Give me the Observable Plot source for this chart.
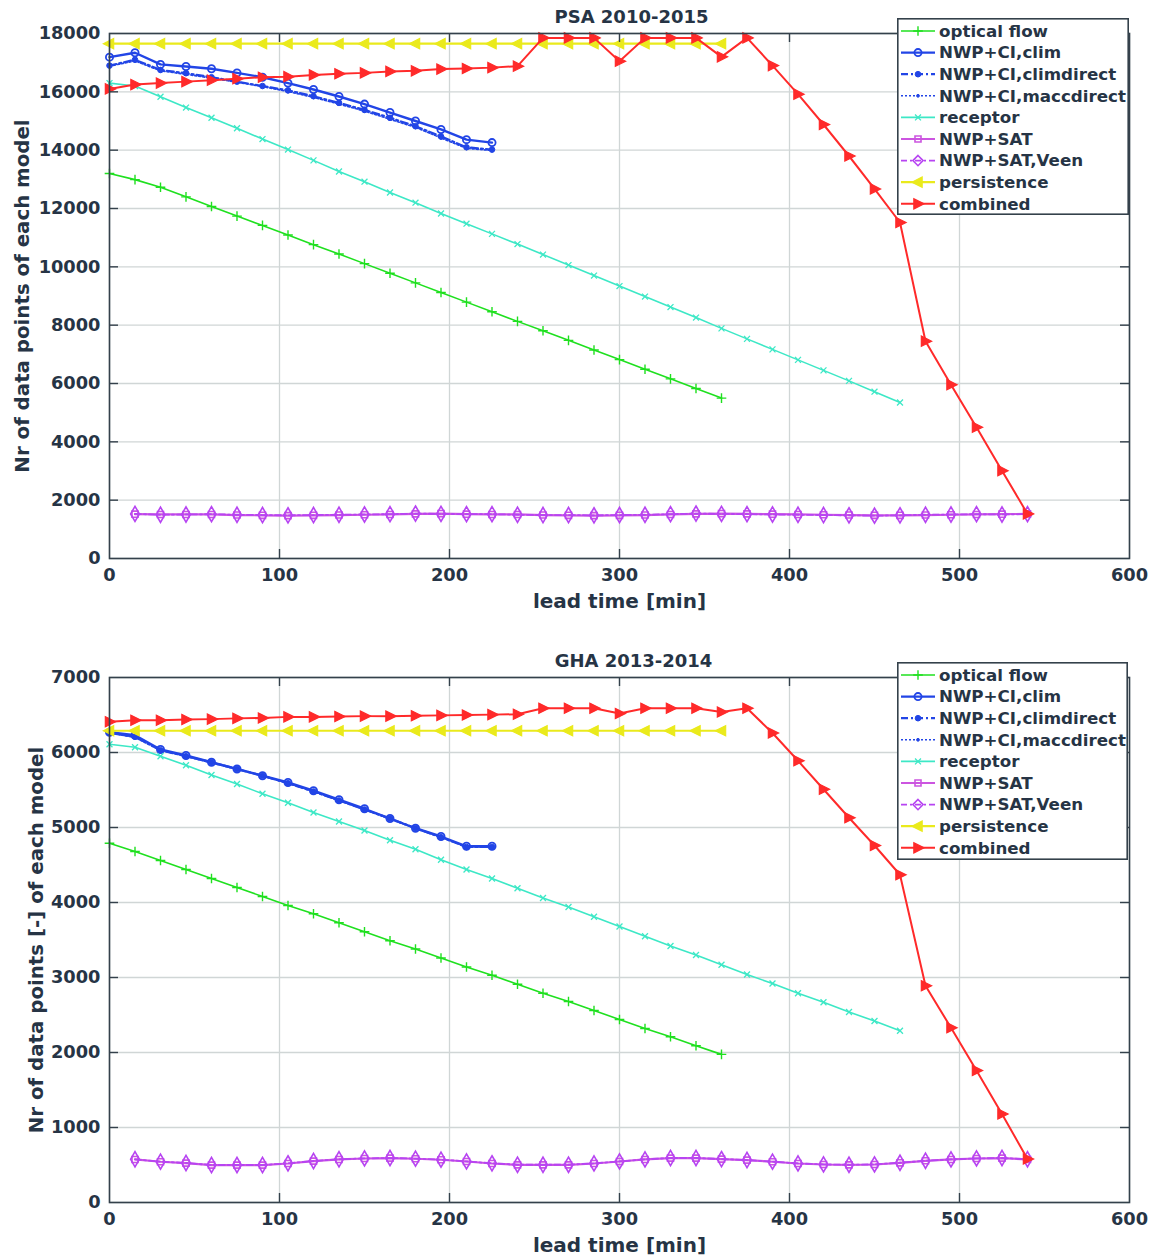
<!DOCTYPE html>
<html><head><meta charset="utf-8">
<script src="https://cdn.jsdelivr.net/npm/d3@7"></script>
<script src="https://cdn.jsdelivr.net/npm/@observablehq/plot@0.6"></script>
<style>
body{margin:0;background:#fff;}
#wrap{position:relative;width:1154px;height:1256px;overflow:hidden;background:#fff;}
.panel{position:absolute;left:0;}
.legend{position:absolute;}
</style></head><body><div id="wrap"></div>
<script>
// ---------- DATA ----------
const leadTimes = [0,15,30,45,60,75,90,105,120,135,150,165,180,195,210,225,240,255,270,285,300,315,330,345,360,375,390,405,420,435,450,465,480,495,510,525,540];
const xTicks = [0,100,200,300,400,500,600];
const psaYTicks = [0,2000,4000,6000,8000,10000,12000,14000,16000,18000];
const ghaYTicks = [0,1000,2000,3000,4000,5000,6000,7000];
const modelNames = ["optical flow","NWP+CI,clim","NWP+CI,climdirect","NWP+CI,maccdirect","receptor","NWP+SAT","NWP+SAT,Veen","persistence","combined"];
// first lead-time index of each model (SAT models start at 15 min)
const modelStart = [0,0,0,0,0,1,1,0,0];

// PSA 2010-2015
const psaOptical = [13200,12990,12730,12400,12070,11740,11420,11090,10760,10440,10110,9780,9450,9120,8790,8460,8130,7810,7480,7150,6820,6490,6160,5830,5500];
const psaClim = [17190,17340,16940,16870,16790,16650,16500,16300,16080,15840,15580,15290,15000,14710,14360,14260];
const psaClimdirect = [16900,17100,16750,16640,16500,16350,16200,16050,15850,15620,15380,15110,14820,14470,14100,14020];
const psaMaccdirect = [16880,17060,16720,16600,16470,16330,16180,16010,15810,15580,15340,15060,14780,14420,14060,13990];
const psaReceptor = [16300,16200,15830,15460,15110,14750,14380,14020,13650,13270,12920,12550,12200,11830,11480,11130,10780,10420,10060,9700,9340,8980,8620,8260,7890,7530,7170,6810,6450,6090,5720,5350];
const psaSat = [1520,1510,1510,1510,1490,1480,1470,1480,1490,1500,1510,1530,1540,1520,1510,1510,1490,1480,1470,1480,1490,1510,1530,1540,1530,1520,1510,1500,1490,1480,1480,1490,1500,1510,1520,1530];
const psaVeen = [1530,1500,1510,1520,1500,1490,1480,1490,1500,1510,1520,1540,1530,1520,1520,1500,1490,1490,1480,1490,1500,1520,1540,1530,1520,1510,1500,1490,1480,1470,1480,1500,1510,1520,1510,1520];
const psaPersistence = [17650,17650,17650,17650,17650,17650,17650,17650,17650,17650,17650,17650,17650,17650,17650,17650,17650,17650,17650,17650,17650,17650,17650,17650,17650];
const psaCombined = [16100,16250,16300,16350,16400,16450,16500,16520,16580,16620,16650,16700,16720,16780,16800,16830,16880,17850,17850,17850,17050,17850,17850,17850,17200,17850,16900,15920,14880,13800,12670,11520,7450,5960,4500,3010,1530];

// GHA 2013-2014
const ghaOptical = [4790,4680,4560,4440,4320,4200,4080,3960,3850,3730,3610,3490,3380,3260,3140,3030,2910,2790,2680,2560,2440,2320,2210,2090,1975];
const ghaClim = [6270,6230,6040,5960,5870,5780,5690,5600,5490,5370,5250,5120,4990,4880,4750,4750];
const ghaClimdirect = [6260,6210,6030,5950,5870,5780,5690,5590,5480,5360,5240,5120,4990,4870,4740,4740];
const ghaMaccdirect = [6260,6200,6030,5950,5860,5780,5690,5590,5480,5360,5240,5110,4990,4870,4740,4740];
const ghaReceptor = [6110,6070,5950,5830,5700,5580,5450,5330,5200,5080,4960,4830,4710,4570,4440,4320,4190,4060,3940,3810,3680,3550,3420,3300,3170,3040,2920,2790,2670,2540,2420,2290];
const ghaSat = [574,543,525,498,498,498,520,552,574,587,592,583,570,547,520,502,502,502,520,547,574,592,592,578,565,543,520,507,502,507,529,556,574,587,592,574];
const ghaVeen = [576,545,527,500,500,500,522,553,576,588,593,585,571,548,522,504,503,504,521,548,575,593,594,579,566,545,521,508,503,508,530,557,575,588,593,576];
const ghaPersistence = [6290,6290,6290,6290,6290,6290,6290,6290,6290,6290,6290,6290,6290,6290,6290,6290,6290,6290,6290,6290,6290,6290,6290,6290,6290];
const ghaCombined = [6410,6430,6430,6440,6445,6455,6460,6475,6475,6480,6485,6485,6490,6495,6500,6505,6510,6590,6590,6590,6520,6590,6590,6590,6540,6590,6260,5890,5510,5130,4760,4370,2890,2330,1760,1180,580];

// ---------- STYLES ----------
const triRight = {draw(ctx, size){ const r = Math.sqrt(size/Math.PI); ctx.moveTo(r*1.25,0); ctx.lineTo(-r*0.85,-r*1.05); ctx.lineTo(-r*0.85,r*1.05); ctx.closePath(); }};
const triLeft = {draw(ctx, size){ const r = Math.sqrt(size/Math.PI); ctx.moveTo(-r*1.25,0); ctx.lineTo(r*0.85,-r*1.05); ctx.lineTo(r*0.85,r*1.05); ctx.closePath(); }};
const blue = "#2245e6";
const styles = [
  {color:"#1fe01f", width:1.6, dash:null, symbol:"plus", r:3.2, fill:"none", sw:1.4},
  {color:blue, width:2.4, dash:null, symbol:"circle", r:3.6, fill:"none", sw:1.8},
  {color:blue, width:2.2, dash:"7,3,2,3", symbol:"circle", r:2.8, fill:blue, sw:1},
  {color:blue, width:1.6, dash:"2,2", symbol:"circle", r:1.4, fill:blue, sw:1},
  {color:"#3de8c6", width:1.6, dash:null, symbol:"times", r:2.8, fill:"none", sw:1.3},
  {color:"#cc55e0", width:2.2, dash:null, symbol:"square", r:3.4, fill:"none", sw:1.6},
  {color:"#b744f2", width:1.8, dash:"6,3,2,3", symbol:"diamond", r:4.6, fill:"none", sw:1.6},
  {color:"#eaea1c", width:2.2, dash:null, symbol:triLeft, r:4.9, fill:"#eaea1c", sw:1.2},
  {color:"#ff2a2a", width:2, dash:null, symbol:triRight, r:4.9, fill:"#ff2a2a", sw:1.2}
];
const textColor = "#263445";
const frameColor = "#34414b";
const gridColor = "#d0d6d6";

function buildRows(valuesList){
  const rows = [];
  valuesList.forEach((vals, m) => {
    vals.forEach((v, i) => rows.push({model: modelNames[m], lead: leadTimes[i + modelStart[m]], count: v}));
  });
  return rows;
}

function panel({title, ylabel, yMax, yTicks, rows, height, mTop, mBottom, titleDx}){
  const mLeft = 109, mRight = 25, width = 1154;
  const plotH = height - mTop - mBottom, plotW = width - mLeft - mRight;
  const marks = [
    Plot.gridX({ticks: xTicks, stroke: gridColor, strokeOpacity: 1, strokeWidth: 1.3}),
    Plot.gridY({ticks: yTicks, stroke: gridColor, strokeOpacity: 1, strokeWidth: 1.3})
  ];
  modelNames.forEach((name, m) => {
    const s = styles[m];
    const d = rows.filter(r => r.model === name);
    marks.push(Plot.line(d, {x: "lead", y: "count", stroke: s.color, strokeWidth: s.width, strokeDasharray: s.dash}));
    marks.push(Plot.dot(d, {x: "lead", y: "count", symbol: s.symbol, r: s.r, stroke: s.color, fill: s.fill, strokeWidth: s.sw}));
  });
  marks.push(
    Plot.frame({stroke: frameColor, strokeWidth: 1.6}),
    Plot.ruleX(xTicks.slice(1, -1), {x: d => d, stroke: frameColor, strokeWidth: 1.4, insetTop: plotH - 9}),
    Plot.ruleX(xTicks.slice(1, -1), {x: d => d, stroke: frameColor, strokeWidth: 1.4, insetBottom: plotH - 9}),
    Plot.ruleY(yTicks.slice(1, -1), {y: d => d, stroke: frameColor, strokeWidth: 1.4, insetRight: plotW - 9}),
    Plot.ruleY(yTicks.slice(1, -1), {y: d => d, stroke: frameColor, strokeWidth: 1.4, insetLeft: plotW - 9}),
    Plot.axisX({ticks: xTicks, tickSize: 0, tickPadding: 10, tickFormat: d => String(d), label: null, fill: textColor}),
    Plot.axisY({ticks: yTicks, tickSize: 0, tickPadding: 9, tickFormat: d => String(d), label: null, fill: textColor}),
    Plot.text([title], {frameAnchor: "top", dy: -16, dx: titleDx, lineAnchor: "middle", fill: textColor, fontSize: 18, fontWeight: "bold"}),
    Plot.text(["lead time [min]"], {frameAnchor: "bottom", dy: 43, lineAnchor: "middle", fill: textColor, fontSize: 20, fontWeight: "bold"}),
    Plot.text([ylabel.text], {frameAnchor: "left", dx: ylabel.dx, rotate: -90, textAnchor: "middle", lineAnchor: "middle", fill: textColor, fontSize: 19.8, fontWeight: "bold"})
  );
  return Plot.plot({
    width, height, marginLeft: mLeft, marginRight: mRight, marginTop: mTop, marginBottom: mBottom,
    x: {domain: [0, 600], label: null, axis: null},
    y: {domain: [0, yMax], label: null, axis: null},
    style: {fontFamily: "DejaVu Sans, sans-serif", fontSize: "17.8px", fontWeight: "bold", color: textColor, background: "#fff", overflow: "visible"},
    marks
  });
}

function legend(left, top, w, h){
  const svg = d3.create("svg").attr("width", w).attr("height", h).attr("class", "legend")
    .style("left", left + "px").style("top", top + "px");
  svg.append("rect").attr("x", 0.8).attr("y", 0.8).attr("width", w - 1.6).attr("height", h - 1.6)
    .attr("fill", "#fff").attr("stroke", frameColor).attr("stroke-width", 1.6);
  modelNames.forEach((name, i) => {
    const s = styles[i];
    const y = 13 + i * 21.6;
    svg.append("line").attr("x1", 4).attr("x2", 38).attr("y1", y).attr("y2", y)
      .attr("stroke", s.color).attr("stroke-width", s.width).attr("stroke-dasharray", s.dash);
    const symType = typeof s.symbol === "string"
      ? {circle: d3.symbolCircle, plus: d3.symbolPlus, times: d3.symbolTimes, square: d3.symbolSquare, diamond: d3.symbolDiamond2}[s.symbol]
      : s.symbol;
    svg.append("path").attr("transform", `translate(21,${y})`)
      .attr("d", d3.symbol(symType, Math.PI * s.r * s.r)())
      .attr("stroke", s.color).attr("fill", s.fill).attr("stroke-width", s.sw);
    svg.append("text").attr("x", 42).attr("y", y).attr("dy", "0.35em")
      .attr("font-family", "DejaVu Sans, sans-serif").attr("font-weight", "bold").attr("font-size", 16.7)
      .attr("fill", textColor).text(name);
  });
  return svg.node();
}

const wrap = document.getElementById("wrap");
const topDiv = document.createElement("div"); topDiv.className = "panel"; topDiv.style.top = "0px";
const botDiv = document.createElement("div"); botDiv.className = "panel"; botDiv.style.top = "620px";
wrap.appendChild(topDiv); wrap.appendChild(botDiv);

topDiv.appendChild(panel({
  title: "PSA 2010-2015", ylabel: {text: "Nr of data points of each model", dx: -87},
  yMax: 18000, yTicks: psaYTicks, height: 620, mTop: 33, mBottom: 62, titleDx: 12,
  rows: buildRows([psaOptical, psaClim, psaClimdirect, psaMaccdirect, psaReceptor, psaSat, psaVeen, psaPersistence, psaCombined])
}));
botDiv.appendChild(panel({
  title: "GHA 2013-2014", ylabel: {text: "Nr of data points [-] of each model", dx: -73},
  yMax: 7000, yTicks: ghaYTicks, height: 636, mTop: 57, mBottom: 54, titleDx: 14,
  rows: buildRows([ghaOptical, ghaClim, ghaClimdirect, ghaMaccdirect, ghaReceptor, ghaSat, ghaVeen, ghaPersistence, ghaCombined])
}));
wrap.appendChild(legend(897, 18, 232, 197));
wrap.appendChild(legend(897, 662, 231, 198));
</script></body></html>
